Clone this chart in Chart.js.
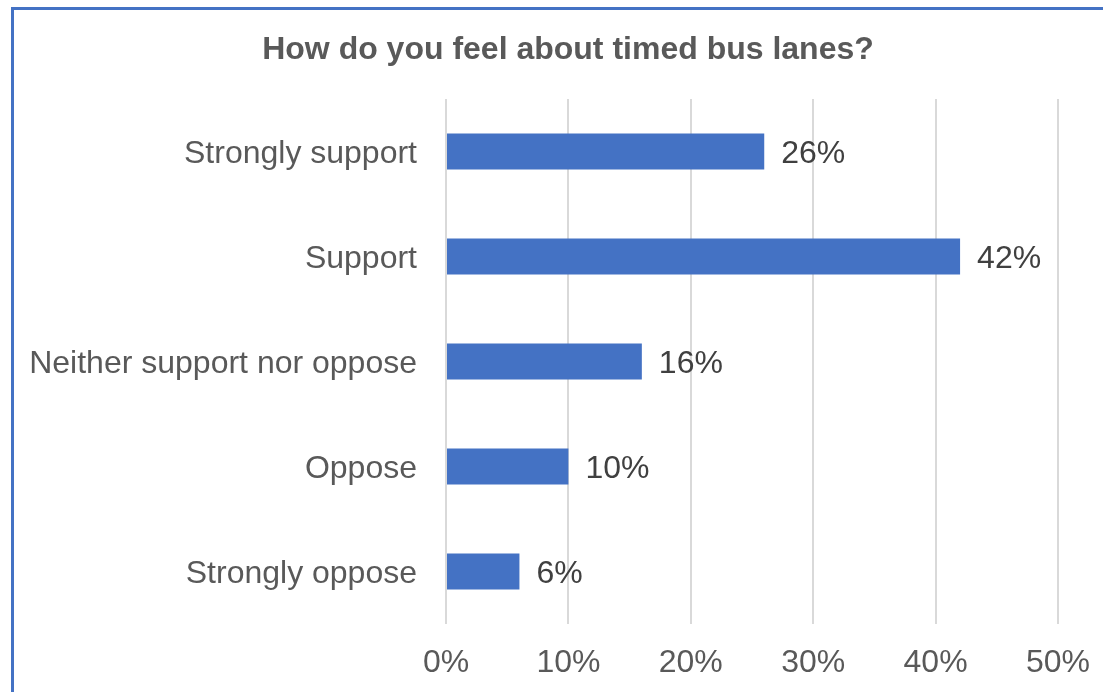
<!DOCTYPE html>
<html>
<head>
<meta charset="utf-8">
<title>Timed bus lanes</title>
<script src="https://cdn.jsdelivr.net/npm/chart.js@4.4.1/dist/chart.umd.min.js"></script>
<style>
  html, body { margin: 0; padding: 0; background: #fff; }
  #frame {
    position: absolute; left: 11px; top: 7px;
    width: 1200px; height: 800px;
    border-left: 3px solid #4472c4;
    border-top: 3px solid #4472c4;
  }
  #chart { position: absolute; left: 0; top: 0; }
</style>
</head>
<body>
<div id="frame"></div>
<canvas id="chart" width="1103" height="692"></canvas>
<script>
const categories = ["Strongly support", "Support", "Neither support nor oppose", "Oppose", "Strongly oppose"];
const shares = [26, 42, 16, 10, 6];
const axisMin = 0;
const axisMax = 50;
const axisStep = 10;
const chartTitle = "How do you feel about timed bus lanes?";

const FONT = "'Liberation Sans', Arial, sans-serif";

/* ---- title, centred a bit right of the canvas middle ---- */
const titleText = {
  id: "titleText",
  afterDraw(chart) {
    const { ctx } = chart;
    ctx.save();
    ctx.font = `bold 32px ${FONT}`;
    ctx.fillStyle = "#595959";
    ctx.textAlign = "center";
    ctx.textBaseline = "alphabetic";
    ctx.fillText(chartTitle, 568, 59);
    ctx.restore();
  }
};

/* ---- value labels to the right of each bar ---- */
const valueLabels = {
  id: "valueLabels",
  afterDatasetsDraw(chart) {
    const { ctx } = chart;
    const meta = chart.getDatasetMeta(0);
    ctx.save();
    ctx.font = `32px ${FONT}`;
    ctx.fillStyle = "#404040";
    ctx.textAlign = "left";
    ctx.textBaseline = "middle";
    meta.data.forEach((bar, i) => {
      ctx.fillText(`${shares[i]}%`, bar.x + 17, bar.y + 3);
    });
    ctx.restore();
  }
};

new Chart(document.getElementById("chart"), {
  type: "bar",
  data: {
    labels: categories,
    datasets: [{
      data: shares,
      backgroundColor: "#4472c4",
      borderWidth: 0,
      categoryPercentage: 1,
      barPercentage: 0.343
    }]
  },
  options: {
    indexAxis: "y",
    responsive: false,
    animation: false,
    layout: { padding: { left: 0, right: 45, top: 99, bottom: 0 } },
    plugins: {
      legend: { display: false },
      tooltip: { enabled: false },
      title: { display: false }
    },
    scales: {
      x: {
        min: axisMin,
        max: axisMax,
        afterFit(scale) {
          scale.height = 68;
          // let the layout padding alone decide where the last gridline sits
          scale.paddingLeft = 0;
          scale.paddingRight = 0;
        },
        grid: { color: "#d9d9d9", lineWidth: 2, drawTicks: false },
        border: { display: false },
        ticks: {
          stepSize: axisStep,
          padding: 20,
          color: "#595959",
          font: { family: FONT, size: 32 },
          callback: v => v + "%"
        }
      },
      y: {
        afterFit(scale) { scale.width = 446; },
        grid: { display: false, drawTicks: false },
        border: { display: false },
        ticks: {
          padding: 29,
          labelOffset: 3,
          color: "#595959",
          font: { family: FONT, size: 32 }
        }
      }
    }
  },
  plugins: [valueLabels, titleText]
});
</script>
</body>
</html>
